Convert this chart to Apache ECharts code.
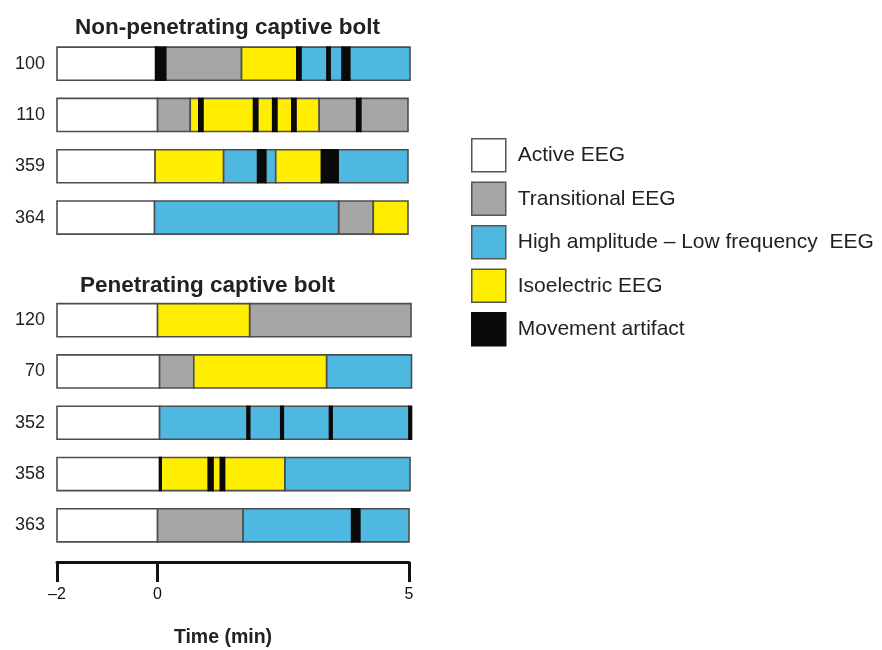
<!DOCTYPE html>
<html>
<head>
<meta charset="utf-8">
<script src="https://cdn.jsdelivr.net/npm/echarts@6/dist/echarts.min.js"></script>
<style>
  html, body { margin: 0; padding: 0; background: #fff; }
  #chart { width: 882px; height: 650px; }
</style>
</head>
<body>
<div id="chart"></div>
<script>
// 动物编号 (空字符串 = 两组之间的空行)
var animals = ['100', '110', '359', '364', '', '120', '70', '352', '358', '363'];
var stateNames = ['Active EEG', 'Transitional EEG', 'High amplitude \u2013 Low frequency  EEG', 'Isoelectric EEG', 'Movement artifact'];
var xTicks = [-2, 0, 5];

// 每行的片段: [开始(min), 结束(min), 状态编号]
// 0 active, 1 transitional, 2 high amp, 3 isoelectric, 4 movement
var seg100 = [[-2, 0, 0], [-0.04, 0.16, 4], [0.16, 1.67, 1], [1.67, 2.77, 3], [2.77, 2.85, 4], [2.85, 3.37, 2], [3.37, 3.43, 4], [3.43, 3.67, 2], [3.67, 3.82, 4], [3.82, 5.02, 2]];
var seg110 = [[-2, 0, 0], [0, 0.65, 1], [0.65, 0.82, 3], [0.82, 0.9, 4], [0.9, 1.91, 3], [1.91, 1.99, 4], [1.99, 2.29, 3], [2.29, 2.37, 4], [2.37, 2.67, 3], [2.67, 2.75, 4], [2.75, 3.21, 3], [3.21, 3.96, 1], [3.96, 4.04, 4], [4.04, 4.98, 1]];
var seg359 = [[-2, -0.05, 0], [-0.05, 1.31, 3], [1.31, 1.99, 2], [1.99, 2.15, 4], [2.15, 2.35, 2], [2.35, 3.26, 3], [3.26, 3.59, 4], [3.59, 4.98, 2]];
var seg364 = [[-2, -0.06, 0], [-0.06, 3.6, 2], [3.6, 4.29, 1], [4.29, 4.98, 3]];
var seg120 = [[-2, 0, 0], [0, 1.83, 3], [1.83, 5.04, 1]];
var seg70 = [[-2, 0.04, 0], [0.04, 0.72, 1], [0.72, 3.36, 3], [3.36, 5.05, 2]];
var seg352 = [[-2, 0.04, 0], [0.04, 1.78, 2], [1.78, 1.83, 4], [1.83, 2.45, 2], [2.45, 2.5, 4], [2.5, 3.42, 2], [3.42, 3.47, 4], [3.47, 5.0, 2], [5.0, 5.05, 4]];
var seg358 = [[-2, 0.04, 0], [0.04, 0.07, 4], [0.07, 1.01, 3], [1.01, 1.1, 4], [1.1, 1.25, 3], [1.25, 1.33, 4], [1.33, 2.53, 3], [2.53, 5.02, 2]];
var seg363 = [[-2, 0, 0], [0, 1.7, 1], [1.7, 3.86, 2], [3.86, 4.02, 4], [4.02, 5.0, 2]];

var rows = [seg100, seg110, seg359, seg364, null, seg120, seg70, seg352, seg358, seg363];
var colors = ['#ffffff', '#a6a6a6', '#4fb8e0', '#ffee00', '#0a0a0a'];

var chart = echarts.init(document.getElementById('chart'));

function renderSeg(params, api) {
    var row = api.value(2);
    var p0 = api.coord([api.value(0), row]);
    var p1 = api.coord([api.value(1), row]);
    var h = api.size([0, 1])[1] * 0.645;
    var black = params.seriesIndex === 4;
    return {
        type: 'rect',
        shape: { x: p0[0], y: p0[1] - h / 2, width: p1[0] - p0[0], height: h },
        style: {
            fill: api.visual('color'),
            stroke: black ? '#0a0a0a' : '#4d4d4d',
            lineWidth: 1.6
        }
    };
}

var series = stateNames.map(function (name, k) {
    var data = [];
    rows.forEach(function (segs, r) {
        if (!segs) return;
        segs.forEach(function (s) {
            if (s[2] === k) data.push([s[0], s[1], r]);
        });
    });
    return {
        name: name,
        type: 'custom',
        renderItem: renderSeg,
        encode: { x: [0, 1], y: 2 },
        itemStyle: { color: colors[k] },
        data: data,
        animation: false
    };
});

chart.setOption({
    backgroundColor: '#fff',
    textStyle: { fontFamily: 'Liberation Sans, Arial, sans-serif' },
    title: [
        { text: 'Non-penetrating captive bolt', left: 70, top: 11,
          textStyle: { fontSize: 22.5, fontWeight: 'bold', color: '#222' } },
        { text: 'Penetrating captive bolt', left: 75, top: 269,
          textStyle: { fontSize: 22.5, fontWeight: 'bold', color: '#222' } }
    ],
    legend: {
        orient: 'vertical',
        left: 466,
        top: 133,
        icon: 'rect',
        itemWidth: 34,
        itemHeight: 33,
        itemGap: 9,
        selectedMode: false,
        textStyle: { fontSize: 21, color: '#222', padding: [0, 0, 0, 7], lineHeight: 22 },
        data: stateNames.map(function (n, k) {
            return { name: n, itemStyle: { color: colors[k], borderColor: k === 4 ? '#0a0a0a' : '#555', borderWidth: 1.5 } };
        })
    },
    grid: { left: 57, right: 473, top: 38, bottom: 99, outerBoundsMode: 'none', containLabel: false },
    xAxis: {
        type: 'value',
        min: -2,
        max: 5,
        offset: 11,
        splitLine: { show: false },
        axisLine: { show: true, lineStyle: { color: '#111', width: 3 } },
        axisTick: { show: true, customValues: xTicks, length: 20, lineStyle: { color: '#111', width: 3 } },
        axisLabel: {
            customValues: xTicks,
            margin: 25,
            fontSize: 16,
            color: '#111',
            formatter: function (v) { return v < 0 ? '\u2013' + Math.abs(v) : String(v); }
        },
        name: 'Time (min)',
        nameLocation: 'middle',
        nameGap: 66,
        nameTextStyle: { fontSize: 19.5, fontWeight: 'bold', color: '#222', padding: [0, 20, 0, 0] }
    },
    yAxis: {
        type: 'category',
        inverse: true,
        data: animals,
        axisLine: { show: false },
        axisTick: { show: false },
        axisLabel: { fontSize: 18, color: '#222', margin: 12 }
    },
    series: series
});
</script>
</body>
</html>
